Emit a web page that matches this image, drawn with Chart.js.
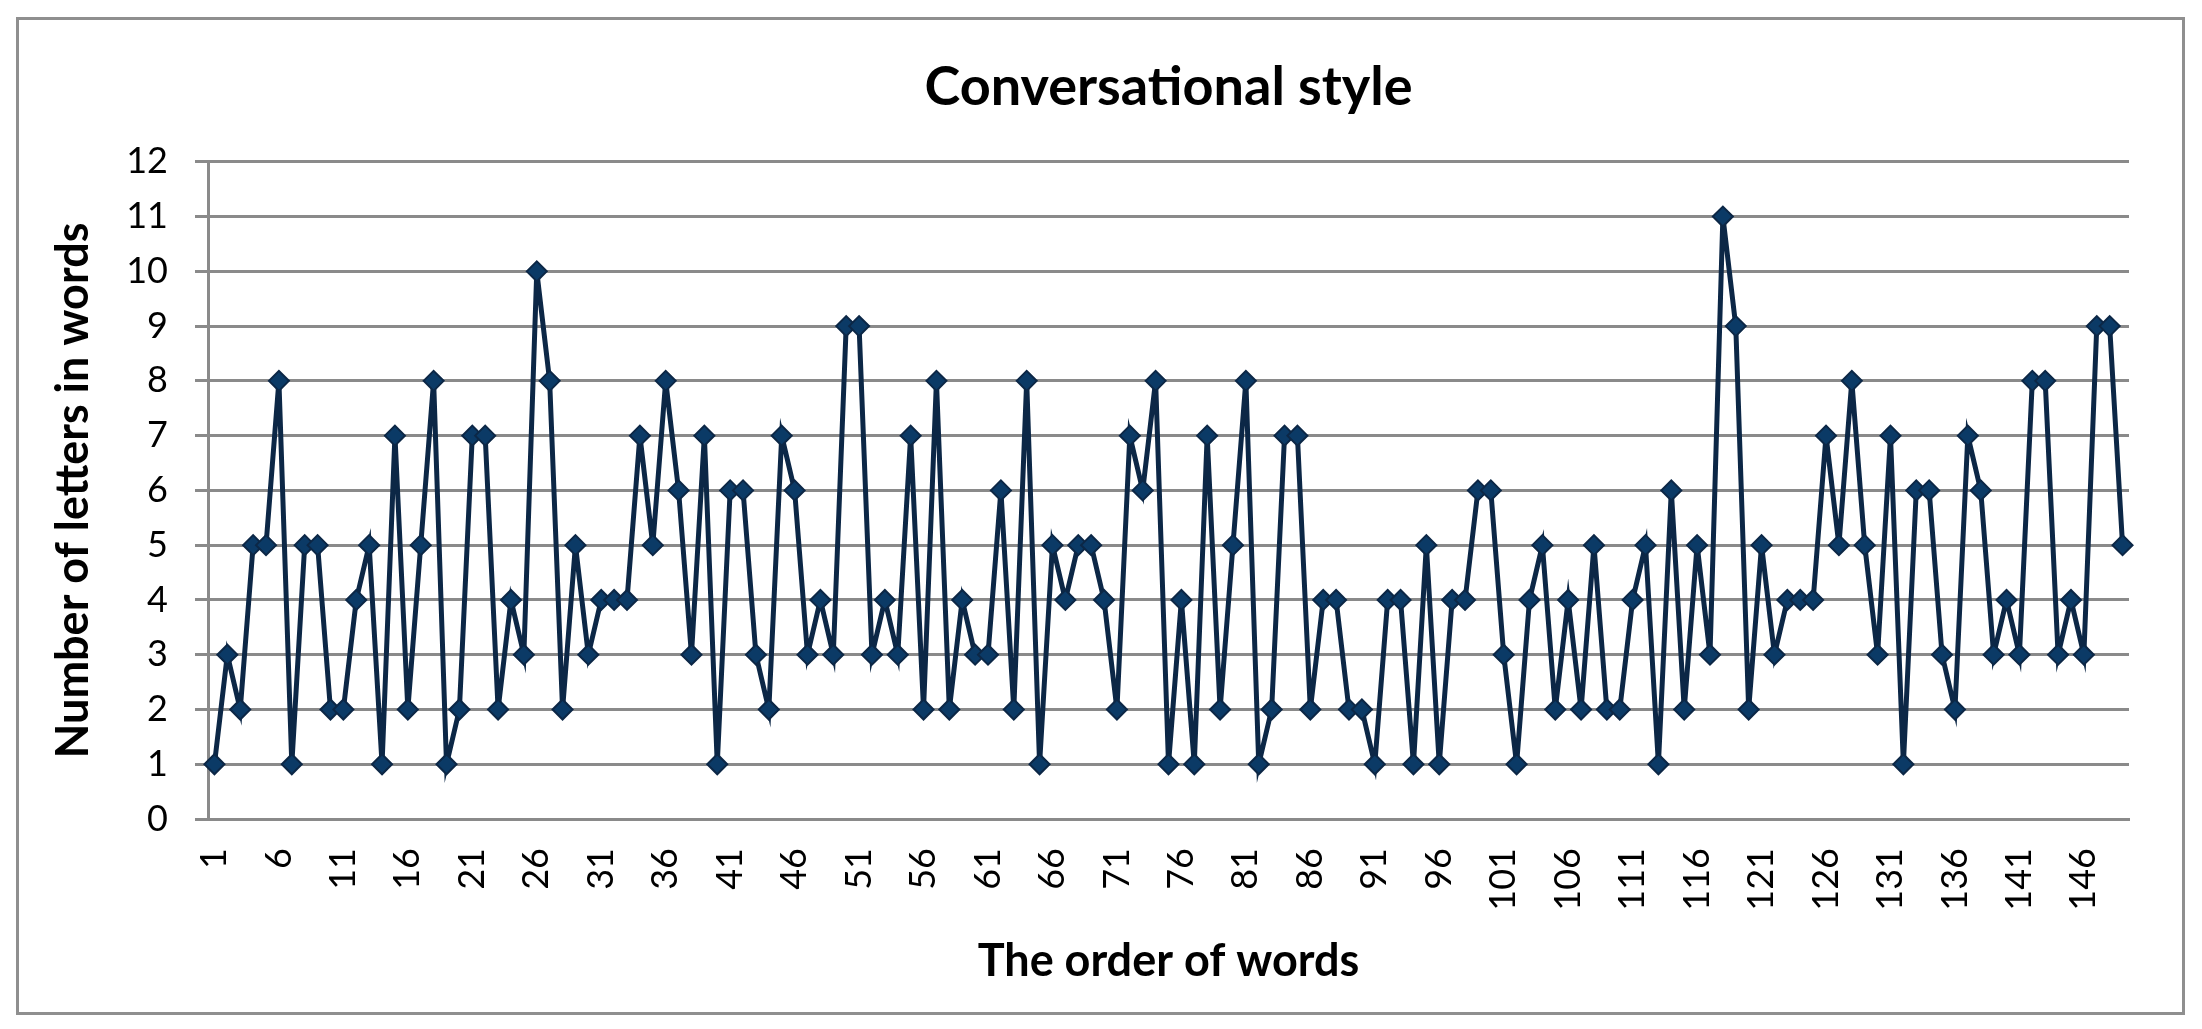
<!DOCTYPE html>
<html>
<head>
<meta charset="utf-8">
<script src="https://cdn.jsdelivr.net/npm/chart.js@4.4.1/dist/chart.umd.min.js"></script>
<style>
  html, body { margin: 0; padding: 0; background: #ffffff; }
  #frame {
    position: absolute; left: 16px; top: 17px;
    width: 2163px; height: 992px;
    border: 3px solid #8f8f8f;
  }
  #chart { position: absolute; left: 0; top: 0; }
</style>
</head>
<body>
<div id="frame"></div>
<canvas id="chart" width="2202" height="1029"></canvas>
<script>
// letters per word, in word order
const letterCounts = [
    1, 3, 2, 5, 5, 8, 1, 5, 5, 2, 2, 4, 5, 1, 7, 2, 5, 8, 1, 2, 7, 7, 2, 4, 3,
    10, 8, 2, 5, 3, 4, 4, 4, 7, 5, 8, 6, 3, 7, 1, 6, 6, 3, 2, 7, 6, 3, 4, 3, 9,
    9, 3, 4, 3, 7, 2, 8, 2, 4, 3, 3, 6, 2, 8, 1, 5, 4, 5, 5, 4, 2, 7, 6, 8, 1,
    4, 1, 7, 2, 5, 8, 1, 2, 7, 7, 2, 4, 4, 2, 2, 1, 4, 4, 1, 5, 1, 4, 4, 6, 6,
    3, 1, 4, 5, 2, 4, 2, 5, 2, 2, 4, 5, 1, 6, 2, 5, 3, 11, 9, 2, 5, 3, 4, 4, 4,
    7, 5, 8, 5, 3, 7, 1, 6, 6, 3, 2, 7, 6, 3, 4, 3, 8, 8, 3, 4, 3, 9, 9, 5
];
const wordOrder = letterCounts.map((v, i) => String(i + 1));
const shownTicks = ['1', '6', '11', '16', '21', '26', '31', '36', '41', '46',
    '51', '56', '61', '66', '71', '76', '81', '86', '91', '96', '101', '106',
    '111', '116', '121', '126', '131', '136', '141', '146'];
const yTicks = [0, 1, 2, 3, 4, 5, 6, 7, 8, 9, 10, 11, 12];

const gridGrey = '#8a8a8a';
const navy = '#0c2746';

const ctx = document.getElementById('chart').getContext('2d');
const chart = new Chart(ctx, {
    type: 'line',
    data: {
        labels: wordOrder,
        datasets: [{
            label: 'Conversational style',
            data: letterCounts,
            borderColor: navy,
            borderWidth: 5,
            backgroundColor: '#0b3a66',
            pointStyle: 'rectRot',
            pointRadius: 10,
            pointBorderColor: navy,
            pointBorderWidth: 2,
            tension: 0
        }]
    },
    options: {
        responsive: false,
        animation: false,
        events: [],
        layout: {
            padding: { top: 20, left: 30, right: 73, bottom: 30 }
        },
        plugins: {
            legend: { display: false },
            tooltip: { enabled: false },
            title: {
                display: true,
                fullSize: false,
                text: 'Conversational style',
                color: '#000000',
                font: { family: 'Lato', size: 54, weight: 'bold' },
                padding: { top: 35, bottom: 42 }
            }
        },
        scales: {
            x: {
                offset: true,
                grid: { display: true, color: 'rgba(0,0,0,0)', drawTicks: false },
                border: { display: true, color: gridGrey, width: 3 },
                ticks: {
                    autoSkip: false,
                    minRotation: 90,
                    maxRotation: 90,
                    padding: 29,
                    color: '#000000',
                    font: { family: 'Lato', size: 36 },
                    callback: function (value, index) {
                        const lab = wordOrder[index];
                        return shownTicks.includes(lab) ? lab : null;
                    }
                },
                title: {
                    display: true,
                    text: 'The order of words',
                    color: '#000000',
                    font: { family: 'Lato', size: 45, weight: 'bold' },
                    padding: { top: 0, bottom: 11 }
                },
                afterFit: function (scale) { scale.height = 180; }
            },
            y: {
                min: yTicks[0],
                max: yTicks[yTicks.length - 1],
                grid: { color: gridGrey, lineWidth: 3, tickLength: 13 },
                border: { display: true, color: gridGrey, width: 3 },
                ticks: {
                    stepSize: 1,
                    padding: 27,
                    color: '#000000',
                    font: { family: 'Lato', size: 36 }
                },
                title: {
                    display: true,
                    text: 'Number of letters in words',
                    color: '#000000',
                    font: { family: 'Lato', size: 45, weight: 'bold' },
                    padding: { top: 16, bottom: 0 }
                },
                afterFit: function (scale) { scale.width = 178; }
            }
        }
    }
});
</script>
</body>
</html>
